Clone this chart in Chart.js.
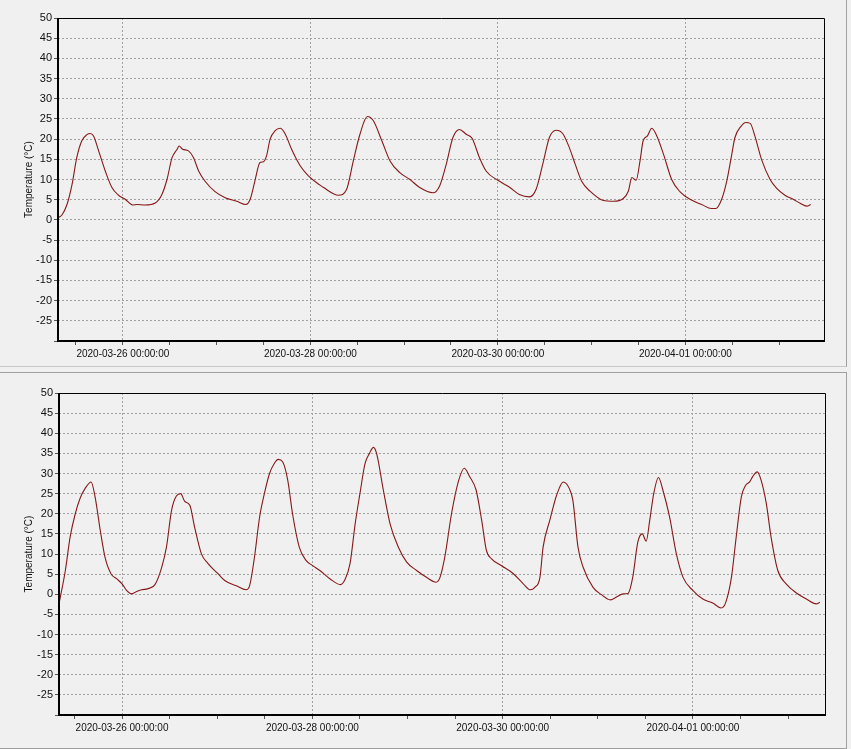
<!DOCTYPE html>
<html>
<head>
<meta charset="utf-8">
<script src="https://cdn.jsdelivr.net/npm/chart.js@4/dist/chart.umd.min.js"></script>
<style>
  body { margin: 0; background: #f0f0f0; width: 851px; height: 749px; overflow: hidden; position: relative; }
  .panel { position: absolute; left: 0; width: 847px; box-sizing: border-box; }
  #panelTop { top: 0; height: 367px; border-right: 1px solid #a0a0a0; border-bottom: 1px solid #c8c8c8; }
  #panelBottom { top: 372px; height: 377px; border: 1px solid #a0a0a0; border-left: none; }
  canvas { position: absolute; left: 0; }
</style>
</head>
<body>
<div class="panel" id="panelTop"></div>
<div class="panel" id="panelBottom"></div>
<canvas id="chartTop" width="851" height="368" style="top:0"></canvas>
<canvas id="chartBottom" width="851" height="379" style="top:370px"></canvas>
<script>
// hours since 2020-03-26 00:00:00
const labelHours = [0, 48, 96, 144];
const dateLabels = ['2020-03-26 00:00:00', '2020-03-28 00:00:00', '2020-03-30 00:00:00', '2020-04-01 00:00:00'];

const topHours = [-16.6, -15.6, -14.3, -13, -11.8, -10.5, -9.2, -8.4, -7.5, -6.2, -4.5, -2.8, -1.1, 0.6, 2.5, 3.6, 5.7, 8.3,
  10, 11.3, 12.6, 13.9, 14.4, 15.3, 16.8, 18.1, 19.4, 21.1, 23.6, 26.2, 29.2, 31.5, 32.6, 33.8, 35.1, 36, 36.8, 37.7,
  39, 40.3, 41.5, 43.2, 45.4, 47.5, 50.5, 51.4, 55.2, 57.3, 59, 60.7, 62.6, 64.1, 66.3, 68.4, 70.9, 73.5, 76, 79.4,
  81.1, 82.8, 84.5, 86.2, 87.9, 89.4, 91.3, 93, 96, 99, 101.5, 104.1, 105.8, 107.5, 109.2, 110.9, 112.6, 114.3, 115.8,
  117.5, 119.6, 123, 125.6, 128.1, 129.4, 130.3, 131.4, 132.4, 133.2, 134.3, 135.4, 136.7, 138.4, 140.5, 142.6, 145.2,
  148.2, 150.7, 151.8, 153.3, 154.6, 155.9, 156.7, 158.2, 159.5, 160.6, 161.8, 163.5, 165.7, 167.4, 169.5, 171.6,
  173.4, 175.1, 176.1];
const topTemps = [0.5, 1.2, 3.8, 8.8, 15.4, 19.6, 21.1, 21.4, 20.8, 17.1, 12.1, 8, 6.1, 5.1, 3.7, 3.8, 3.7, 4.2,
  6.3, 10, 15.4, 17.5, 18.3, 17.5, 17.1, 15.4, 12.1, 9.5, 7, 5.5, 4.6, 3.8, 5.1, 9.6, 14.2, 14.4, 15.9, 20,
  22.1, 22.7, 21.4, 17.5, 13.4, 10.9, 8.6, 8, 6.1, 7.6, 14.6, 21.2, 25.6, 24.6, 19.6, 14.6, 11.7, 10, 8, 6.7,
  8.4, 13.8, 20.4, 22.4, 21.2, 20.2, 15.4, 12.1, 9.8, 8.1, 6.3, 5.7, 7.6, 13.8, 20.4, 22.2, 21.4, 17.9, 13.8,
  9.5, 7.1, 4.8, 4.6, 5.3, 7.1, 10.5, 9.8, 14.6, 19.6, 20.8, 22.7, 20.8, 16.3, 10, 7, 5.1,
  3.8, 2.8, 2.8, 5.1, 9.6, 16.3, 20.4, 23.1, 24.1, 23.9, 20.8, 15, 10, 7.8, 6.1, 5.1,
  4.1, 3.4, 3.8];

const bottomHours = [-15.9, -14.3, -13.1, -11.8, -10.6, -9.3, -7.8, -6.8, -5.5, -4.3, -2.8, -1.3, 0, 1.2, 2.4, 3.7, 4.9,
  6.6, 8.3, 10, 11.2, 12.5, 13.7, 14.8, 15.8, 17.1, 18.3, 20, 21.7, 24.2, 25.9, 28.8, 31.3, 32.2, 33.4, 34.7, 35.9,
  37.2, 38.4, 39.4, 40.5, 41.8, 43, 44.7, 46.4, 48.1, 49.9, 52.5, 55.1, 56.2, 57.5, 58.8, 60, 61.3, 62.4, 63.4, 64.2,
  65.9, 67.6, 69.7, 71.8, 74.3, 76.8, 79.2, 80.2, 81.4, 83.1, 84.8, 86.3, 87.7, 89.3, 90.7, 91.9, 93.2, 95.7, 98.7,
  101.2, 103, 104.1, 105.4, 106.2, 107.9, 109.6, 111.3, 112.8, 113.7, 115, 116.3, 118.8, 120.9, 123.2, 124.7, 126.4,
  127.6, 128.8, 130.1, 131.2, 132.2, 133.1, 134.1, 135.3, 136.4, 138.1, 139.8, 141.5, 144, 146.5, 149, 151.1, 152.2,
  153.7, 154.9, 156.2, 157.3, 158.3, 159.1, 160.2, 161.2, 162.5, 163.7, 165.4, 167.5, 170.1, 172.6, 175.1, 176];
const bottomTemps = [-2.4, 5.9, 14.2, 20, 23.8, 26.3, 27.9, 24.2, 15.9, 9.2, 5.1, 3.8, 2.6, 0.9, 0.1, 0.7, 1.1,
  1.4, 2.4, 6.7, 11.7, 20.9, 24.4, 25, 23.1, 22.1, 16.7, 10.1, 7.6, 5.1, 3.4, 2.1, 1.1, 2.2, 9.2, 19.2, 25,
  30, 32.5, 33.5, 32.9, 28.3, 20, 11.7, 8.4, 7.1, 5.9, 3.8, 2.4, 3.6, 7.6, 17.5, 25, 32.5, 35, 36.5, 35,
  25.9, 17.5, 11.7, 8, 5.9, 4.2, 3, 4.2, 9.2, 20, 27.9, 31.3, 29.2, 25.9, 18.4, 10.9, 8.8, 7.1, 5.1,
  2.6, 1.1, 1.7, 4.2, 11.7, 18.4, 24.6, 27.9, 26.3, 23.4, 11.7, 6.7, 1.7, -0.1, -1.4, -0.7, 0.1,
  0.2, 4.2, 13, 15, 13.2, 18.4, 25, 29, 25.9, 19.2, 10.1, 4.2, 0.9, -1.2, -2.2, -3.4, -2.2,
  4.2, 14.2, 24.2, 27.1, 27.9, 29.3, 30.4, 28.3, 22.5, 14.2, 5.9, 2.6, 0.3, -1.2, -2.4, -2];

const FONT = "'Liberation Sans', Arial, sans-serif";
const GRID = '#a2a2a2';

const frame = {
  id: 'frame',
  afterDraw(chart) {
    const { ctx, chartArea: a } = chart;
    ctx.save();
    ctx.strokeStyle = '#000';
    ctx.lineWidth = 1;
    ctx.beginPath();
    ctx.moveTo(a.left, a.top + 0.5);
    ctx.lineTo(a.right + 0.5, a.top + 0.5);
    ctx.lineTo(a.right + 0.5, a.bottom);
    ctx.stroke();
    ctx.lineWidth = 2;
    ctx.beginPath();
    ctx.moveTo(a.left, a.top);
    ctx.lineTo(a.left, a.bottom);
    ctx.lineTo(a.right + 1, a.bottom);
    ctx.stroke();
    ctx.restore();
  }
};

function makeChart(id, hours, temps, xMin, xMax, box) {
  const points = hours.map((h, i) => ({ x: h, y: temps[i] }));
  return new Chart(document.getElementById(id), {
    type: 'line',
    data: {
      datasets: [{
        data: points,
        borderColor: '#861818',
        borderWidth: 1.1,
        pointRadius: 0,
        cubicInterpolationMode: 'monotone',
        fill: false
      }]
    },
    options: {
      responsive: false,
      animation: false,
      events: [],
      layout: { padding: { top: box.top, right: box.right, left: 0, bottom: 0 } },
      plugins: { legend: { display: false }, tooltip: { enabled: false } },
      scales: {
        x: {
          type: 'linear',
          min: xMin,
          max: xMax,
          afterFit(scale) { scale.height = box.xh; },
          border: { display: false, dash: [2, 2] },
          grid: {
            color: c => labelHours.includes(c.tick.value) ? GRID : 'rgba(0,0,0,0)',
            tickColor: '#555',
            tickLength: 4,
            lineWidth: 1
          },
          ticks: {
            stepSize: 12,
            includeBounds: false,
            autoSkip: false,
            maxRotation: 0,
            padding: 3,
            color: '#111',
            font: { family: FONT, size: 10 },
            callback: v => {
              const i = labelHours.indexOf(v);
              return i >= 0 ? dateLabels[i] : '';
            }
          }
        },
        y: {
          min: -30,
          max: 50,
          afterFit(scale) { scale.width = box.left; },
          border: { display: false, dash: [2, 2] },
          grid: { color: GRID, tickColor: '#555', tickLength: 4, lineWidth: 1 },
          ticks: {
            stepSize: 5,
            padding: 2,
            color: '#111',
            font: { family: FONT, size: 11 },
            callback: v => v === -30 ? '' : v
          },
          title: {
            display: true,
            text: 'Temperature (°C)',
            color: '#111',
            font: { family: FONT, size: 10 },
            padding: { top: 23, bottom: 0 }
          }
        }
      }
    },
    plugins: [frame]
  });
}

makeChart('chartTop', topHours, topTemps, -16.6, 179.5, { top: 18, right: 27, left: 58, xh: 27 });
makeChart('chartBottom', bottomHours, bottomTemps, -15.9, 177.3, { top: 23, right: 26, left: 59, xh: 34 });
</script>
</body>
</html>
